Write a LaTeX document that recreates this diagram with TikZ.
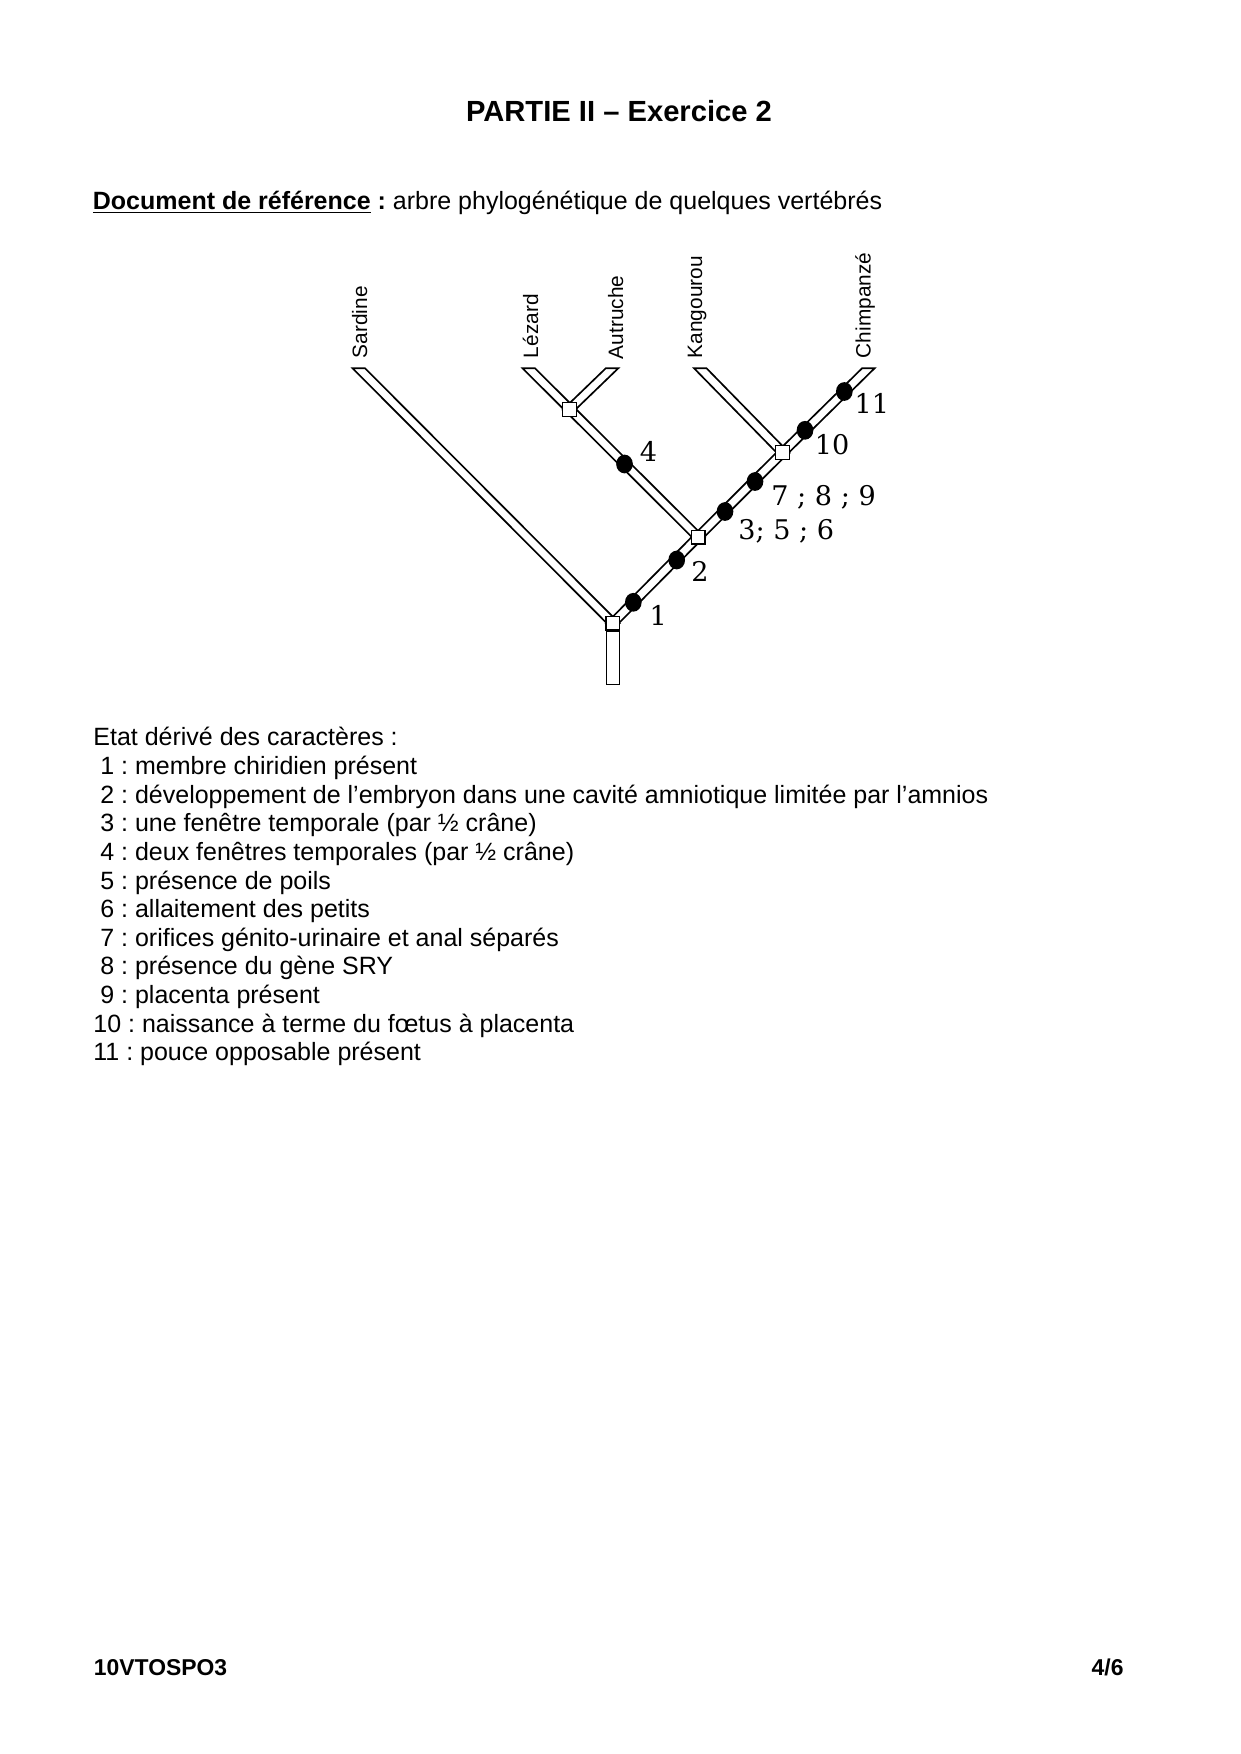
\documentclass[tikz,border=0pt]{standalone}
\usepackage{fontspec}
\setmainfont{Liberation Sans}
\newfontfamily\serifnum{DejaVu Serif}
\usetikzlibrary{shapes.geometric}
\frenchspacing

\begin{document}
\begin{tikzpicture}[x=0.48006pt, y=-0.48006pt,
    branch/.style={draw=black, fill=white, line width=0.8pt},
    knot/.style={draw=black, fill=white, line width=0.6pt, minimum size=6.6pt, inner sep=0pt},
    apo/.style={ellipse, fill=black, minimum width=8pt, minimum height=9pt, inner sep=0pt},
    stembox/.style={draw=black, fill=white, line width=0.7pt, minimum width=6.2pt, minimum height=25.6pt, inner sep=0pt},
    taxon/.style={rotate=90, anchor=base west, inner sep=0pt, font=\fontsize{10}{12}\selectfont},
    num/.style={anchor=base west, inner sep=0pt, font=\serifnum\fontsize{13}{15}\selectfont},
    item/.style={anchor=base west, inner sep=0pt, font=\fontsize{12}{14}\selectfont}]
                \useasboundingbox (0,0) rectangle (1240,1754);

                % Heading
                \node[anchor=base, inner sep=0pt, font=\fontsize{14}{16}\selectfont\bfseries] (title) at (619,121.7) {PARTIE II – Exercice 2};
                \node[item] (doc) at (92.5,209.5) {\textbf{\underline{Document de référence} :} arbre phylogénétique de quelques vertébrés};

                % Tips & forks
                \coordinate (sard) at (358.8,368.3);
                \coordinate (lez) at (528.8,368.3);
                \coordinate (autr) at (612,368.3);
                \coordinate (kang) at (700.3,368.3);
                \coordinate (chimp) at (868.3,368.3);
                \coordinate (r0) at (612.8,623);
                \coordinate (r1) at (569.5,409.3);
                \coordinate (r2) at (698,537);
                \coordinate (r3) at (782.7,452.5);

                % Branches
                \draw[branch] ([xshift=-3pt]sard) -- ([xshift=3pt]sard) -- ([xshift=3pt]r0) -- ([xshift=-3pt]r0) -- cycle;
                \draw[branch] ([xshift=-3pt]lez) -- ([xshift=3pt]lez) -- ([xshift=3pt]r2) -- ([xshift=-3pt]r2) -- cycle;
                \draw[branch] ([xshift=-3pt]autr) -- ([xshift=3pt]autr) -- ([xshift=3pt]r1) -- ([xshift=-3pt]r1) -- cycle;
                \draw[branch] ([xshift=-3pt]kang) -- ([xshift=3pt]kang) -- ([xshift=3pt]r3) -- ([xshift=-3pt]r3) -- cycle;
                \draw[branch] ([xshift=-3pt]chimp) -- ([xshift=3pt]chimp) -- ([xshift=3pt]r3) -- ([xshift=-3pt]r3) -- cycle;
                \draw[branch] ([xshift=-3pt]r3) -- ([xshift=3pt]r3) -- ([xshift=3pt]r2) -- ([xshift=-3pt]r2) -- cycle;
                \draw[branch] ([xshift=-3pt]r2) -- ([xshift=3pt]r2) -- ([xshift=3pt]r0) -- ([xshift=-3pt]r0) -- cycle;

                % Forks & stem
                \node[knot] (root) at (r0) {};
                \node[stembox, anchor=north] (stem) at (root.south) {};
                \node[knot] (k1) at (r1) {};
                \node[knot] (k2) at (r2) {};
                \node[knot] (k3) at (r3) {};

                % Taxa
                \node[taxon] (tSard) at (367,358.5) {Sardine};
                \node[taxon] (tLez) at (538,358.5) {Lézard};
                \node[taxon] (tAutr) at (623,359.5) {Autruche};
                \node[taxon] (tKang) at (702,358.5) {Kangourou};
                \node[taxon] (tChimp) at (870.6,358.5) {Chimpanzé};

                % Derived states
                \node[apo] (d1) at (633.3,602.3) {};
                \node[apo] (d2) at (676.7,560) {};
                \node[apo] (d3) at (725,511.5) {};
                \node[apo] (d7) at (755,481.5) {};
                \node[apo] (d4) at (624.5,464) {};
                \node[apo] (d10) at (805,430.3) {};
                \node[apo] (d11) at (844.3,391.5) {};

                \node[num] (n1) at (649.2,625) {1};
                \node[num] (n2) at (691,581) {2};
                \node[num] (n4) at (639.5,462) {4};
                \node[num] (n356) at (738,540) {3; 5 ; 6};
                \node[num] (n789) at (771,506) {7 ; 8 ; 9};
                \node[num] (n10) at (814.5,454.5) {10};
                \node[num] (n11) at (854.2,413.5) {11};

                % Legend
                \foreach \t [count=\i] in {
                    {Etat dérivé des caractères :},
                    {\mbox{}\ 1 : membre chiridien présent},
                    {\mbox{}\ 2 : développement de l’embryon dans une cavité amniotique limitée par l’amnios},
                    {\mbox{}\ 3 : une fenêtre temporale (par ½ crâne)},
                    {\mbox{}\ 4 : deux fenêtres temporales (par ½ crâne)},
                    {\mbox{}\ 5 : présence de poils},
                    {\mbox{}\ 6 : allaitement des petits},
                    {\mbox{}\ 7 : orifices génito-urinaire et anal séparés},
                    {\mbox{}\ 8 : présence du gène SRY},
                    {\mbox{}\ 9 : placenta présent},
                    {10 : naissance à terme du fœtus à placenta},
                    {11 : pouce opposable présent}}
                    \node[item] (line\i) at (93, 717.04+28.66*\i) {\t};

                % Footer
                \node[item, font=\fontsize{11}{13}\selectfont\bfseries] (code) at (93.5,1675) {10VTOSPO3};
                \node[item, anchor=base east, font=\fontsize{11}{13}\selectfont\bfseries] (page) at (1124,1675) {4/6};
            \end{tikzpicture}
\end{document}
